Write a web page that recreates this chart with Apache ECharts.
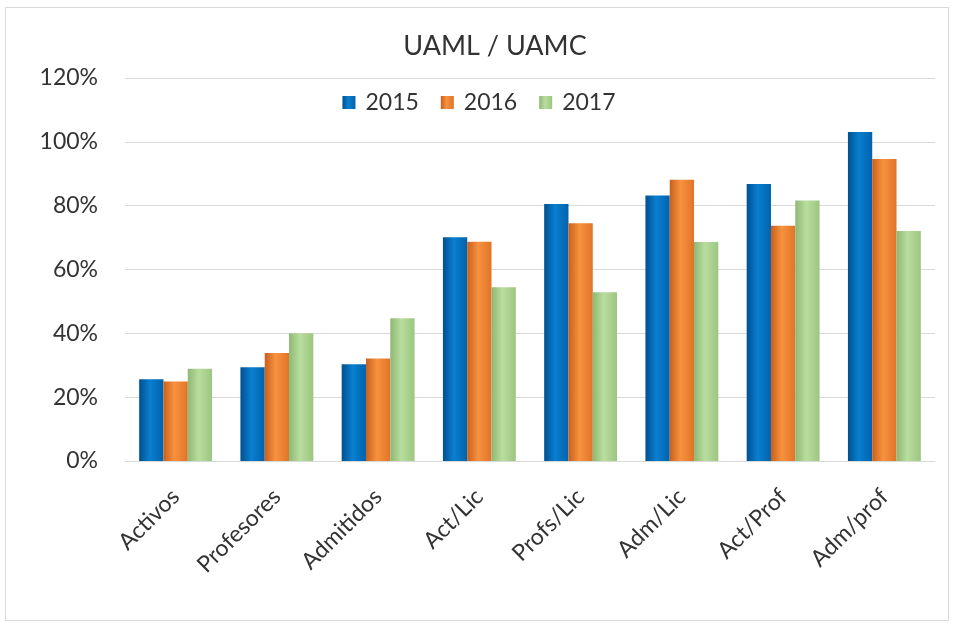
<!DOCTYPE html>
<html>
<head>
<meta charset="utf-8">
<script src="https://cdn.jsdelivr.net/npm/echarts@6/dist/echarts.min.js"></script>
<style>
  html, body { margin: 0; padding: 0; background: #fff; }
  #frame { position: absolute; left: 5px; top: 7px; width: 942px; height: 612px; border: 1px solid #d9d9d9; }
  #chart { position: absolute; left: 0; top: 0; width: 958px; height: 624px; }
</style>
</head>
<body>
<div id="frame"></div>
<div id="chart"></div>
<script>
const categories = ["Activos", "Profesores", "Admitidos", "Act/Lic", "Profs/Lic", "Adm/Lic", "Act/Prof", "Adm/prof"];
const years = ["2015", "2016", "2017"];
const v2015 = [25.6, 29.4, 30.3, 70.1, 80.5, 83.2, 86.8, 103.1];
const v2016 = [24.9, 33.8, 32.1, 68.7, 74.5, 88.1, 73.7, 94.6];
const v2017 = [28.9, 40.0, 44.7, 54.4, 52.9, 68.6, 81.6, 72.1];

const font = "Lato";
const colors = ["#0070C0", "#ED7D31", "#A9D18E"];
const shades = [
  ["#00508f", "#0a7fd0", "#0062ad"],
  ["#c8601c", "#f8923f", "#e07428"],
  ["#8fb874", "#b9dd9e", "#9cc680"]
];

function grad(i) {
  return new echarts.graphic.LinearGradient(0, 0, 1, 0, [
    { offset: 0, color: shades[i][0] },
    { offset: 0.45, color: shades[i][1] },
    { offset: 1, color: shades[i][2] }
  ]);
}

const seriesData = [v2015, v2016, v2017];
const chart = echarts.init(document.getElementById("chart"));

const option = {
  animation: false,
  title: {
    text: "UAML / UAMC",
    left: 490,
    top: 28,
    textAlign: "center",
    textStyle: { fontFamily: font, fontSize: 27, fontWeight: "normal", color: "#333" }
  },
  legend: {
    data: years,
    left: "center",
    top: 86,
    itemWidth: 13,
    itemHeight: 13,
    itemGap: 22,
    icon: "rect",
    textStyle: { fontFamily: font, fontSize: 23, color: "#333", padding: [0, 0, 0, 5] }
  },
  grid: { left: 125, right: 23, top: 78, bottom: 163, containLabel: false },
  xAxis: {
    type: "category",
    data: categories,
    axisLine: { lineStyle: { color: "#d9d9d9" } },
    axisTick: { show: false },
    axisLabel: {
      rotate: 45,
      interval: 0,
      margin: 32,
      fontFamily: font,
      fontSize: 23,
      color: "#333"
    }
  },
  yAxis: {
    type: "value",
    min: 0,
    max: 120,
    interval: 20,
    axisLine: { show: false },
    axisTick: { show: false },
    splitLine: { lineStyle: { color: "#d9d9d9" } },
    axisLabel: {
      formatter: "{value}%",
      margin: 27,
      fontFamily: font,
      fontSize: 23,
      color: "#333"
    }
  },
  series: years.map((y, i) => ({
    name: y,
    type: "bar",
    data: seriesData[i],
    barGap: "0%",
    barCategoryGap: "28%",
    itemStyle: { color: grad(i) }
  })),
  color: colors
};

chart.setOption(option);
</script>
</body>
</html>
